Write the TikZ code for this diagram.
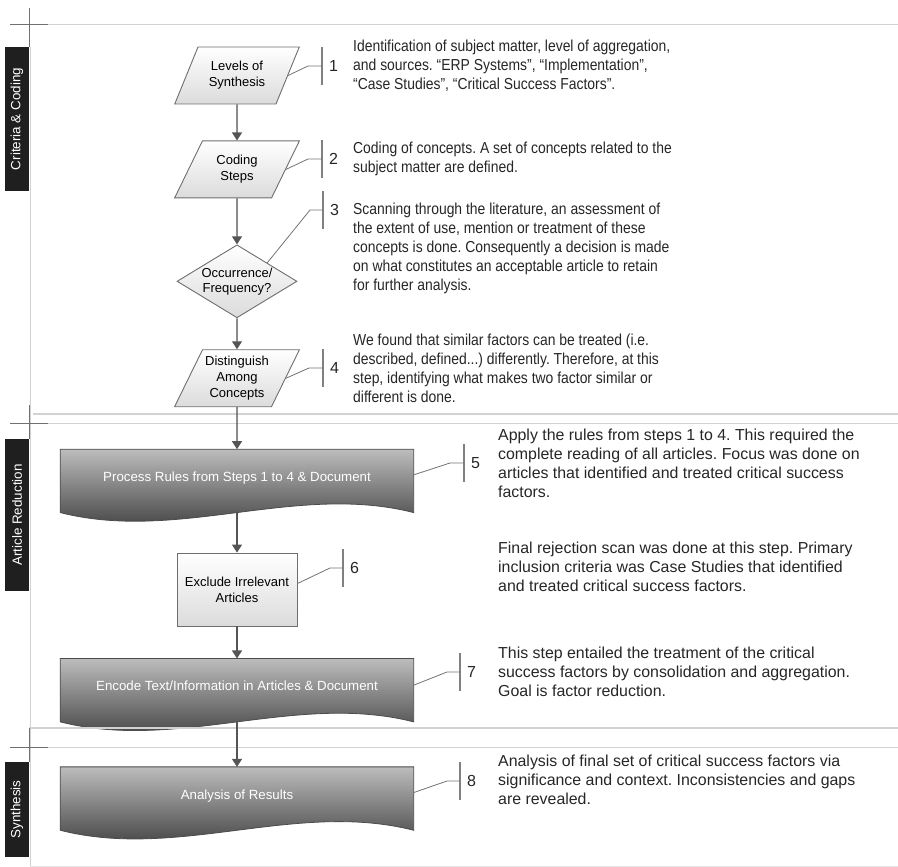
\documentclass[tikz,border=0pt]{standalone}
\usepackage{fontspec}
\setmainfont{Liberation Sans}
\newfontfamily\narrowfont[FakeStretch=0.875]{Liberation Sans}
\usetikzlibrary{positioning, arrows.meta, shapes.geometric, backgrounds}
\definecolor{edgegray}{HTML}{6E6E6E}
\definecolor{arrowgray}{HTML}{555555}
\definecolor{lanegray}{HTML}{D2D2D2}
\definecolor{crossgray}{HTML}{707070}
\definecolor{textgray}{HTML}{262626}
\frenchspacing

\begin{document}
\begin{tikzpicture}[
    x=1pt, y=-1pt,
    node distance=36pt,
    para/.style={trapezium, trapezium left angle=60, trapezium right angle=120, trapezium stretches=true, draw=edgegray, line width=0.9pt, top color=white, bottom color=black!14, minimum width=125pt, minimum height=57pt, align=center, font=\fontsize{13}{16}\selectfont, inner sep=1pt},
    decision/.style={diamond, aspect=1.64, draw=edgegray, line width=0.9pt, top color=white, bottom color=black!14, minimum width=120pt, minimum height=73pt, align=center, font=\fontsize{13}{15}\selectfont, inner sep=0pt},
    block/.style={rectangle, draw=edgegray, line width=0.9pt, top color=white, bottom color=black!14, minimum width=120pt, minimum height=73pt, align=center, font=\fontsize{13}{16}\selectfont},
    docbox/.style={rectangle, minimum width=353pt, minimum height=63pt, text depth=8pt, text=white, font=\fontsize{13.3}{16}\selectfont},
    docfill/.style={draw=black!70, line width=0.8pt, top color=black!26, bottom color=black!82},
    arr/.style={-{Triangle[length=8pt, width=10pt]}, draw=arrowgray, fill=arrowgray, line width=1.2pt},
    note/.style={draw=black!55, line width=0.8pt},
    tick/.style={draw=black!50, line width=1.3pt},
    num/.style={font=\fontsize{16}{19}\selectfont, text=textgray, inner sep=0pt},
    desc/.style={anchor=north west, align=left, inner sep=0pt, text=textgray, font=\fontsize{15.9}{19}\selectfont},
    descn/.style={desc, font=\narrowfont\fontsize{15.9}{19}\selectfont},
    lanebar/.style={rectangle, fill=black!88, text=white, rotate=90, minimum height=24pt, inner sep=0pt, font=\fontsize{13.4}{16}\selectfont},
]
\useasboundingbox (0,0) rectangle (898,867);

% lane rules
\draw[lanegray, line width=0.8pt] (30,47) -- (30,867);
\draw[lanegray, line width=1pt] (48,25) -- (898,25);
\draw[crossgray, line width=1pt] (10,25) -- (48,25);
\draw[crossgray, line width=1pt] (29,8) -- (29,47);
\draw[lanegray, line width=2pt] (33,414) -- (898,414);
\draw[lanegray, line width=0.8pt] (48,423) -- (898,423);
\draw[crossgray, line width=1pt] (10,423) -- (48,423);
\draw[crossgray, line width=1pt] (29,405) -- (29,439);
\draw[lanegray, line width=1.5pt] (29,728) -- (898,728);
\draw[crossgray, line width=1pt] (29,728) -- (29,762);
\draw[lanegray, line width=0.8pt] (48,747) -- (898,747);
\draw[crossgray, line width=1pt] (10,747) -- (48,747);
\draw[lanegray!60, line width=0.8pt] (30,866) -- (898,866);

\node[lanebar, minimum width=144pt] (lane1) at (17,119) {Criteria \& Coding};
\node[lanebar, minimum width=152pt] (lane2) at (17,515) {Article Reduction};
\node[lanebar, minimum width=95pt] (lane3) at (17,809.5) {Synthesis};

% flow
\node[para] (lev) at (237,75.5) {Levels of\\Synthesis};
\node[para, below=36pt of lev] (cod) {Coding\\Steps};
\node[decision, below=46pt of cod] (occ) {Occurrence/\\Frequency?};
\node[para, below=31pt of occ] (dist) {Distinguish\\Among\\Concepts};
\node[docbox, below=42pt of dist] (proc) {Process Rules from Steps 1 to 4 \& Document};
\node[block, below=40pt of proc] (excl) {Exclude Irrelevant\\Articles};
\node[docbox, below=32pt of excl] (enc) {Encode Text/Information in Articles \& Document};
\node[docbox, below=45pt of enc] (ana) {Analysis of Results};

\begin{scope}[on background layer]
\foreach \n in {proc, enc, ana}
  \shadedraw[docfill] (\n.north west) -- (\n.north east) -- (\n.south east)
    .. controls ([xshift=-117.7pt, yshift=30pt]\n.south east) and ([xshift=117.7pt, yshift=-30pt]\n.south west) .. (\n.south west) -- cycle;
\end{scope}

\draw[arr] (lev) -- (cod);
\draw[arr] (cod) -- (occ);
\draw[arr] (occ) -- (dist);
\draw[arr] (dist) -- (proc);
\draw[arr] (proc) -- (excl);
\draw[arr] (excl) -- (enc);
\draw[arr] (enc) -- (ana);

% step brackets
\coordinate (b1) at (322,66);
\coordinate (b2) at (322,159);
\coordinate (b3) at (323,210);
\coordinate (b4) at (323,368);
\coordinate (b5) at (464,463);
\coordinate (b6) at (343,568);
\coordinate (b7) at (460,672);
\coordinate (b8) at (460,781);
\foreach \i in {1,...,8} {
  \draw[tick] ([yshift=19pt]b\i) -- ([yshift=-19pt]b\i);
  \node[num, right=7pt of b\i] (k\i) {\i};
}

\draw[note] (lev.east) -- ([xshift=-14pt]b1) -- (b1);
\draw[note] (cod.east) -- ([xshift=-14pt]b2) -- (b2);
\draw[note] (occ.north east) -- ([xshift=-13pt]b3) -- (b3);
\draw[note] (dist.east) -- ([xshift=-14pt]b4) -- (b4);
\draw[note] ([yshift=6pt]proc.east) -- ([xshift=-14pt]b5) -- (b5);
\draw[note] ([yshift=6pt]excl.east) -- ([xshift=-13pt]b6) -- (b6);
\draw[note] ([yshift=5pt]enc.east) -- ([xshift=-13pt]b7) -- (b7);
\draw[note] ([yshift=6pt]ana.east) -- ([xshift=-13pt]b8) -- (b8);

% descriptions
\node[descn] (t1) at (353,40) {Identification of subject matter, level of aggregation,\\and sources. “ERP Systems”, “Implementation”,\\“Case Studies”, “Critical Success Factors”.};
\node[descn] (t2) at (353,142) {Coding of concepts. A set of concepts related to the\\subject matter are defined.};
\node[descn] (t3) at (353,203) {Scanning through the literature, an assessment of\\the extent of use, mention or treatment of these\\concepts is done. Consequently a decision is made\\on what constitutes an acceptable article to retain\\for further analysis.};
\node[descn] (t4) at (353,334) {We found that similar factors can be treated (i.e.\\described, defined...) differently. Therefore, at this\\step, identifying what makes two factor similar or\\different is done.};
\node[desc] (t5) at (498,429) {Apply the rules from steps 1 to 4. This required the\\complete reading of all articles. Focus was done on\\articles that identified and treated critical success\\factors.};
\node[desc] (t6) at (498,542) {Final rejection scan was done at this step. Primary\\inclusion criteria was Case Studies that identified\\and treated critical success factors.};
\node[desc] (t7) at (498,647) {This step entailed the treatment of the critical\\success factors by consolidation and aggregation.\\Goal is factor reduction.};
\node[desc] (t8) at (498,755) {Analysis of final set of critical success factors via\\significance and context. Inconsistencies and gaps\\are revealed.};
\end{tikzpicture}
\end{document}
